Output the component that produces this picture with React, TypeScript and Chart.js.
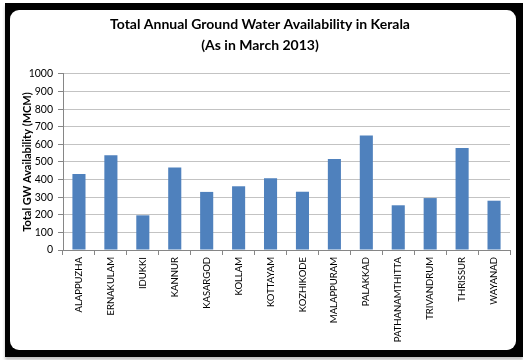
import React, { useEffect, useRef } from "react";
import { Chart, registerables } from "chart.js";

Chart.register(...registerables);

const districts = [
  "ALAPPUZHA",
  "ERNAKULAM",
  "IDUKKI",
  "KANNUR",
  "KASARGOD",
  "KOLLAM",
  "KOTTAYAM",
  "KOZHIKODE",
  "MALAPPURAM",
  "PALAKKAD",
  "PATHANAMTHITTA",
  "TRIVANDRUM",
  "THRISSUR",
  "WAYANAD",
];

const availability = [432, 538, 197, 468, 330, 362, 407, 331, 517, 650, 254, 295, 580, 280];

const titleLines = ["Total Annual Ground Water Availability in Kerala", "(As in March 2013)"];
const yAxisTitle = "Total GW Availability (MCM)";

const FONT = "Lato, 'Open Sans', 'DejaVu Sans', sans-serif";

export default function App() {
  const canvasRef = useRef<HTMLCanvasElement | null>(null);

  useEffect(() => {
    const canvas = canvasRef.current;
    if (!canvas) return;
    const chart = new Chart(canvas, {
      type: "bar",
      data: {
        labels: districts,
        datasets: [
          {
            data: availability,
            backgroundColor: "#4F81BD",
            borderWidth: 0,
            categoryPercentage: 1,
            barPercentage: 0.41,
          },
        ],
      },
      options: {
        responsive: false,
        animation: false,
        devicePixelRatio: 1,
        layout: { padding: { left: 0, right: 6, top: 3, bottom: 0 } },
        plugins: {
          legend: { display: false },
          tooltip: { enabled: false },
          title: {
            display: true,
            text: titleLines,
            color: "#000000",
            font: { family: FONT, size: 14, weight: "bold", lineHeight: 1.57 },
            padding: { top: 0, bottom: 17 },
          },
        },
        scales: {
          x: {
            grid: {
              display: true,
              drawOnChartArea: false,
              drawTicks: true,
              tickLength: 5,
              color: "#868686",
              offset: true,
            },
            border: { display: true, color: "#868686" },
            ticks: {
              minRotation: 90,
              maxRotation: 90,
              autoSkip: false,
              padding: 2,
              color: "#000000",
              font: { family: FONT, size: 9.5 },
            },
            afterFit: (scale: any) => {
              scale.height = 100;
            },
          },
          y: {
            min: 0,
            max: 1000,
            ticks: {
              stepSize: 100,
              padding: 5,
              color: "#000000",
              font: { family: FONT, size: 10.5 },
              callback: (v: any) => String(v),
            },
            grid: {
              color: "#C3C3C3",
              tickLength: 5,
              tickColor: "#868686",
            },
            border: { display: true, color: "#868686" },
            title: {
              display: true,
              text: yAxisTitle,
              color: "#000000",
              font: { family: FONT, size: 11, weight: "bold" },
              padding: { top: 11, bottom: 0 },
            },
            afterFit: (scale: any) => {
              scale.width = 53;
            },
          },
        },
      },
    });
    return () => chart.destroy();
  }, []);

  return (
    <div
      style={{
        position: "fixed",
        left: 0,
        top: 0,
        width: 523,
        height: 360,
        background: "#ffffff",
        overflow: "hidden",
      }}
    >
      <div
        style={{
          position: "absolute",
          left: 5,
          top: 3,
          width: 518,
          height: 354,
          background: "#000000",
          boxShadow: "0 3px 3px rgba(0,0,0,0.25)",
        }}
      />
      <div
        style={{
          position: "absolute",
          left: 10,
          top: 10,
          width: 506,
          height: 340,
          background: "#ffffff",
          borderRadius: 9,
          overflow: "hidden",
        }}
      >
        <canvas ref={canvasRef} width={506} height={340} style={{ display: "block" }} />
      </div>
    </div>
  );
}
